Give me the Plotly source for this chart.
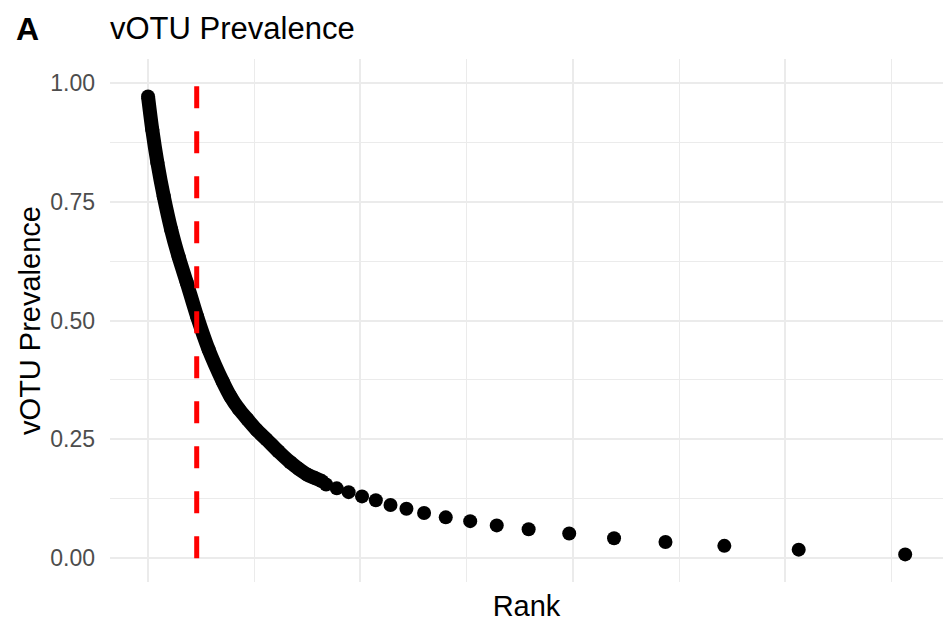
import plotly.graph_objects as go

# Dense head of the rank-prevalence curve
head_rank = [1, 21, 45, 75, 110, 145, 183, 232, 286, 352, 389, 428, 469, 512, 558, 614, 670, 710, 750, 785, 820]
head_prev = [0.971, 0.901, 0.832, 0.761, 0.691, 0.634, 0.580, 0.508, 0.439, 0.372, 0.340, 0.314, 0.292, 0.270, 0.250, 0.225, 0.202, 0.188, 0.176, 0.169, 0.162]

# Sparse tail (tied prevalence groups)
tail_rank = [839, 889, 945, 1008, 1073, 1142, 1217, 1300, 1402, 1517, 1642, 1792,
             1983, 2194, 2436, 2713, 3063, 3564]
tail_prev = [0.155, 0.147, 0.139, 0.130, 0.122, 0.112, 0.104, 0.095, 0.086, 0.078,
             0.069, 0.061, 0.052, 0.042, 0.034, 0.026, 0.018, 0.008]

cutoff_rank = 230
y_ticks = [0.0, 0.25, 0.5, 0.75, 1.0]
y_labels = ["0.00", "0.25", "0.50", "0.75", "1.00"]

FONT = "Liberation Sans, Arial, sans-serif"

fig = go.Figure()
fig.add_trace(go.Scatter(x=head_rank, y=head_prev, mode="lines+markers",
                         line=dict(color="black", width=14, shape="spline", smoothing=0.8),
                         marker=dict(color="black", size=14), showlegend=False))
fig.add_trace(go.Scatter(x=tail_rank, y=tail_prev, mode="markers",
                         marker=dict(color="black", size=14), showlegend=False))
fig.add_trace(go.Scatter(x=[cutoff_rank, cutoff_rank], y=[0, 1], mode="lines",
                         line=dict(color="#FF0000", width=5, dash="22px,23px"),
                         showlegend=False))

L, T, B = 110, 59, 43
H = 625 - T - B
W = 943 - L

fig.update_layout(
    width=943, height=625,
    margin=dict(l=L, r=0, t=T, b=B),
    paper_bgcolor="white", plot_bgcolor="white",
    font=dict(family=FONT, color="black"),
    title=dict(text="vOTU Prevalence", x=110/943, xanchor="left", xref="container",
               y=1-28/625, yanchor="middle", yref="container",
               font=dict(size=31, color="black", family=FONT)),
    annotations=[dict(text="<b>A</b>", x=(27-L)/W, y=(625-B-29)/H, xref="paper", yref="paper",
                      xanchor="center", yanchor="middle", showarrow=False,
                      font=dict(size=32, color="black", family=FONT))],
    xaxis=dict(range=[-178, 3742], tick0=0, dtick=1000, showticklabels=False,
               showgrid=True, gridcolor="#EBEBEB", gridwidth=1.5,
               zeroline=False, showline=False, ticks="",
               minor=dict(dtick=500, tick0=0, showgrid=True, gridcolor="#EBEBEB", gridwidth=0.8),
               title=dict(text="Rank", font=dict(size=29, color="black"), standoff=13)),
    yaxis=dict(range=[-0.05, 1.05], tickvals=y_ticks, ticktext=y_labels,
               showgrid=True, gridcolor="#EBEBEB", gridwidth=1.5,
               zeroline=False, showline=False, ticks="",
               ticklabelstandoff=14,
               tickfont=dict(size=23, color="#4D4D4D"),
               minor=dict(tickvals=[0.125, 0.375, 0.625, 0.875], showgrid=True,
                          gridcolor="#EBEBEB", gridwidth=0.8),
               title=dict(text="vOTU Prevalence", font=dict(size=29, color="black"), standoff=1)),
)
fig.update_xaxes(automargin=False)
fig.update_yaxes(automargin=False)

fig.write_html("out.html")
